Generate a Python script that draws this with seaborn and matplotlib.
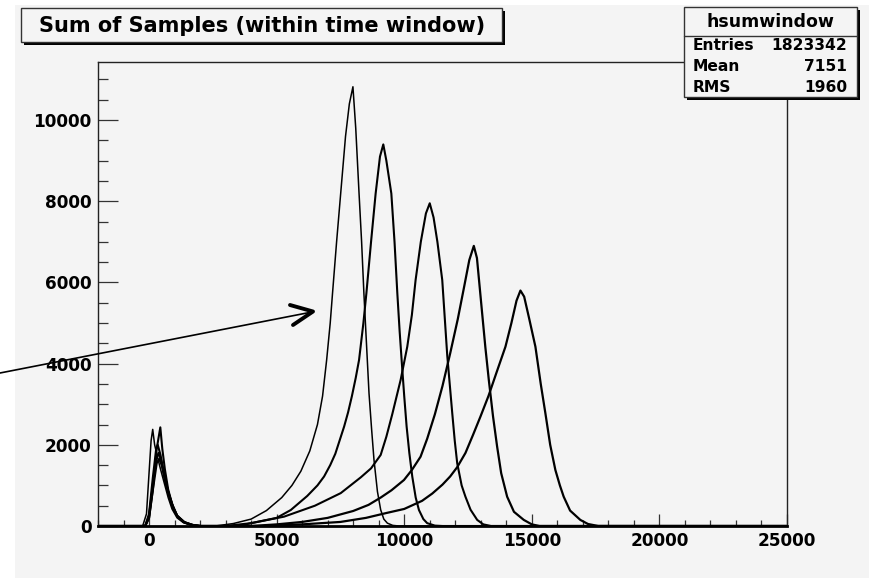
import matplotlib
matplotlib.use("Agg")
import matplotlib.pyplot as plt
from matplotlib.patches import Rectangle
from matplotlib.ticker import MultipleLocator
import numpy as np
import pandas as pd
import seaborn as sns

# ---------------- data ----------------
c1_x = [-2000, -250, -100, 0, 80, 144, 220, 330, 450, 600, 750, 900, 1100, 1350, 1650, 2000,
        2600, 3300, 4000, 4600, 5200, 5600, 5950, 6300, 6600, 6800, 6960, 7100, 7190, 7350, 7510,
        7700, 7850, 7990, 8100, 8230, 8330, 8420, 8520, 8620, 8720, 8815, 8950, 9077, 9200, 9340,
        9550, 9800, 25000]
c1_y = [0, 0, 300, 1300, 2100, 2380, 2000, 1700, 1400, 1050, 700, 420, 200, 80, 20, 0,
        0, 60, 170, 380, 700, 1000, 1350, 1850, 2500, 3200, 4090, 5000, 5730, 7000, 8190,
        9600, 10400, 10820, 9800, 8190, 7000, 5730, 4500, 3270, 2400, 1630, 850, 400, 170, 70,
        15, 0, 0]

c2_x = [-2000, -150, 0, 150, 300, 442, 520, 620, 750, 900, 1100, 1350, 1650, 2000,
        3000, 4000, 5000, 5555, 6200, 6600, 6860, 7100, 7300, 7645, 7800, 7950, 8100, 8230, 8400,
        8517, 8700, 8880, 9050, 9180, 9300, 9495, 9620, 9730, 9820, 9898, 10000, 10094, 10200,
        10316, 10450, 10577, 10750, 10900, 11200, 11500, 25000]
c2_y = [0, 0, 200, 900, 1900, 2430, 1900, 1400, 900, 550, 250, 100, 30, 0,
        0, 70, 200, 394, 740, 1000, 1220, 1500, 1780, 2450, 2800, 3200, 3650, 4090, 5000,
        5730, 7000, 8190, 9100, 9400, 9000, 8190, 7000, 5730, 4800, 4090, 3200, 2450, 1800,
        1215, 700, 394, 170, 70, 10, 0, 0]

c3_x = [-2000, -150, 0, 150, 280, 340, 450, 600, 750, 930, 1100, 1380, 1700, 2000,
        3500, 4000, 5290, 6500, 7512, 8300, 8700, 9077, 9300, 9530, 9860, 10120, 10300, 10446,
        10650, 10850, 11000, 11150, 11300, 11490, 11686, 11882, 11980, 12077, 12250, 12400, 12600,
        12860, 13100, 13400, 25000]
c3_y = [0, 0, 300, 1200, 1900, 2000, 1750, 1250, 850, 500, 260, 100, 25, 0,
        0, 70, 230, 500, 810, 1200, 1420, 1750, 2200, 2750, 3600, 4420, 5200, 6060,
        7000, 7700, 7950, 7600, 7000, 6060, 4200, 2780, 2100, 1544, 1000, 720, 400,
        150, 40, 0, 0]

c4_x = [-2000, -150, 0, 150, 280, 380, 480, 620, 770, 930, 1100, 1380, 1700, 2000,
        4000, 5000, 6000, 7000, 8000, 8600, 9077, 9500, 9990, 10300, 10640, 10900, 11200, 11500,
        11800, 12100, 12350, 12550, 12727, 12850, 13054, 13180, 13315, 13480, 13641, 13800, 14033,
        14300, 14685, 15000, 15300, 25000]
c4_y = [0, 0, 250, 1000, 1650, 1800, 1600, 1150, 780, 460, 240, 90, 25, 0,
        0, 40, 100, 200, 370, 520, 700, 880, 1133, 1380, 1707, 2150, 2750, 3450,
        4250, 5100, 5900, 6550, 6900, 6600, 5238, 4400, 3596, 2700, 1954, 1300, 722,
        350, 150, 40, 0, 0]

c5_x = [-2000, -150, 0, 150, 300, 400, 500, 640, 790, 950, 1120, 1400, 1720, 2050,
        4500, 6000, 7500, 8500, 9300, 10000, 10700, 11100, 11500, 11800, 12077, 12400, 12700,
        12990, 13300, 13600, 13967, 14200, 14400, 14554, 14700, 14900, 15141, 15350, 15532, 15720,
        15923, 16100, 16249, 16500, 16901, 17200, 17600, 25000]
c5_y = [0, 0, 200, 900, 1550, 1650, 1500, 1100, 750, 440, 230, 85, 25, 0,
        0, 40, 100, 200, 320, 420, 620, 800, 1020, 1220, 1450, 1800, 2250,
        2700, 3200, 3750, 4417, 5000, 5550, 5800, 5650, 5100, 4417, 3500, 2776, 2000,
        1380, 1000, 722, 380, 150, 50, 0, 0]

x_ticks = [0, 5000, 10000, 15000, 20000, 25000]
y_ticks = [0, 2000, 4000, 6000, 8000, 10000]

title_text = "Sum of Samples (within time window)"
stats_name = "hsumwindow"
stats_rows = [("Entries", "1823342"), ("Mean", "7151"), ("RMS", "1960")]

curves = [("c1", c1_x, c1_y, 1.1), ("c2", c2_x, c2_y, 1.5), ("c3", c3_x, c3_y, 1.5),
          ("c4", c4_x, c4_y, 1.6), ("c5", c5_x, c5_y, 1.6)]

sns.set_style("ticks")
plt.rcParams["font.family"] = ["DejaVu Sans"]
plt.rcParams["font.weight"] = "bold"
plt.rcParams["text.color"] = "black"
plt.rcParams["xtick.labelcolor"] = "black"
plt.rcParams["ytick.labelcolor"] = "black"

BG = "#f4f4f4"
W, H = 869, 578
fig = plt.figure(figsize=(W / 100, H / 100), dpi=100)
fig.patch.set_facecolor("white")
fig.patches.append(Rectangle((15 / W, 0), (W - 15) / W, (H - 5) / H,
                             transform=fig.transFigure, facecolor=BG,
                             edgecolor="none", zorder=-10))

L, R, T, B = 98, 787, 62, 526
ax = fig.add_axes([L / W, (H - B) / H, (R - L) / W, (B - T) / H])
ax.set_facecolor(BG)

for name, xs, ys, lw in curves:
    d = pd.DataFrame({"x": xs, "y": ys})
    sns.lineplot(data=d, x="x", y="y", estimator=None, sort=False,
                 color="black", linewidth=lw, ax=ax, legend=False)

ax.set_xlim(-2000, 25000)
ax.set_ylim(0, 11430)
ax.set_xlabel("")
ax.set_ylabel("")
ax.set_xticks(x_ticks)
ax.set_xticklabels([str(v) for v in x_ticks])
ax.set_yticks(y_ticks)
ax.set_yticklabels([str(v) for v in y_ticks])
ax.xaxis.set_minor_locator(MultipleLocator(1000))
ax.yaxis.set_minor_locator(MultipleLocator(500))

ax.tick_params(axis="x", which="major", direction="in", length=8.6, width=0.9,
               color="#333333", pad=4.5, labelsize=12.2, labelcolor="black")
ax.tick_params(axis="x", which="minor", direction="in", length=4.3, width=0.9,
               color="#333333")
ax.tick_params(axis="y", which="major", direction="in", length=14.4, width=0.9,
               color="#333333", pad=4.5, labelsize=12.2, labelcolor="black")
ax.tick_params(axis="y", which="minor", direction="in", length=7.2, width=0.9,
               color="#333333")
ax.tick_params(top=False, right=False, which="both")
for lab in ax.get_xticklabels() + ax.get_yticklabels():
    lab.set_fontweight("bold")

for s in ["top", "right", "left"]:
    ax.spines[s].set_color("#222222")
    ax.spines[s].set_linewidth(1.0)
    ax.spines[s].set_visible(True)
ax.spines["bottom"].set_color("black")
ax.spines["bottom"].set_linewidth(2.0)

# ---------------- overlay (title box, stats box, arrow) ----------------
ov = fig.add_axes([0, 0, 1, 1])
ov.set_xlim(0, W)
ov.set_ylim(H, 0)
ov.axis("off")
ov.patch.set_alpha(0)

# title box with shadow
tx0, ty0, tx1, ty1 = 20.7, 8.3, 501.7, 41.7
ov.add_patch(Rectangle((tx0 + 3, ty0 + 3), tx1 - tx0, ty1 - ty0, facecolor="black",
                       edgecolor="none", zorder=2))
ov.add_patch(Rectangle((tx0, ty0), tx1 - tx0, ty1 - ty0, facecolor=BG,
                       edgecolor="#333333", linewidth=1.0, zorder=3))
ov.text((tx0 + tx1) / 2 + 1, (ty0 + ty1) / 2 + 0.5, title_text, ha="center", va="center",
        fontsize=15.0, fontweight="bold", color="black", zorder=4)

# stats box with shadow
sx0, sy0, sx1, sy1 = 684, 7.3, 856.7, 96.7
ov.add_patch(Rectangle((sx0 + 3, sy0 + 3), sx1 - sx0, sy1 - sy0, facecolor="black",
                       edgecolor="none", zorder=2))
ov.add_patch(Rectangle((sx0, sy0), sx1 - sx0, sy1 - sy0, facecolor=BG,
                       edgecolor="#333333", linewidth=1.0, zorder=3))
ov.plot([sx0, sx1], [36, 36], color="#333333", linewidth=1.0, zorder=4)
ov.text((sx0 + sx1) / 2, 22, stats_name, ha="center", va="center",
        fontsize=12.5, fontweight="bold", color="black", zorder=5)
for i, (k, v) in enumerate(stats_rows):
    yy = 45 + i * 21.5
    ov.text(692.5, yy, k, ha="left", va="center", fontsize=11.2, fontweight="bold",
            color="black", zorder=5)
    ov.text(847, yy, v, ha="right", va="center", fontsize=11.2, fontweight="bold",
            color="black", zorder=5)

# arrow
ov.plot([0, 312], [373, 312], color="black", linewidth=1.2, zorder=6)
ov.plot([290, 313, 293], [305, 311.5, 325], color="black", linewidth=2.8,
        solid_capstyle="round", solid_joinstyle="round", zorder=6)

fig.savefig("out.png", dpi=100, facecolor=fig.get_facecolor())
